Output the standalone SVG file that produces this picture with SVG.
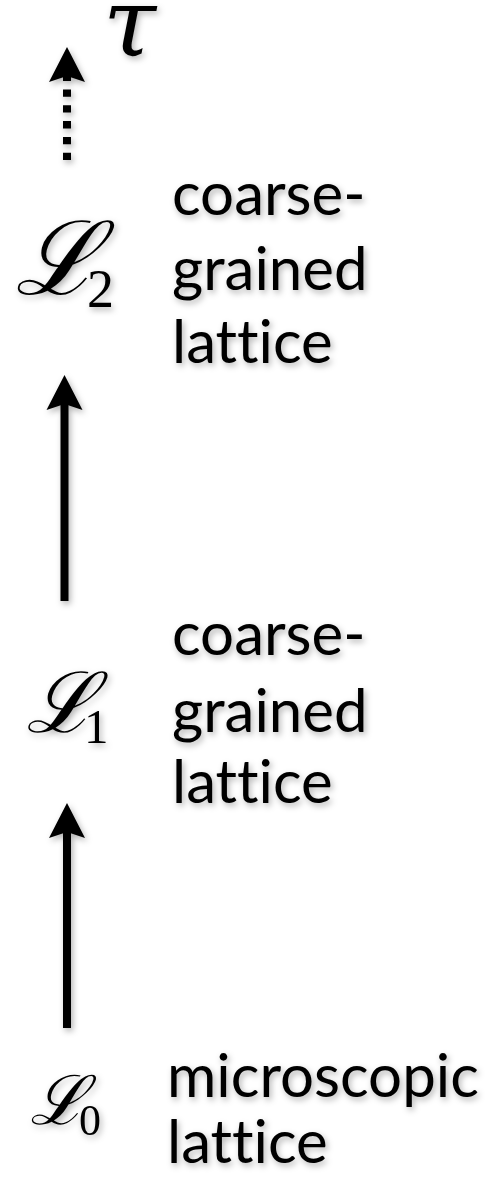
<svg xmlns="http://www.w3.org/2000/svg" width="493" height="1178" viewBox="0 0 493 1178">
<style>
.lbl{font-family:"Lato","Open Sans",sans-serif;font-size:60px;fill:#000;font-variant-ligatures:none;font-feature-settings:"liga" 0}
.cal{font-family:"DejaVu Serif",serif;font-style:italic;fill:#000}
.sub{font-family:"Liberation Serif",serif;fill:#000}
.shaft{stroke:#000;stroke-width:8;fill:none;stroke-linecap:butt}
</style>
<defs>
<filter id="sh" x="-20%" y="-20%" width="140%" height="140%">
<feDropShadow dx="2" dy="3" stdDeviation="3" flood-color="#000" flood-opacity="0.3"/>
</filter>
<marker id="ah" markerUnits="userSpaceOnUse" viewBox="0 -20 40 40" refX="6" refY="0" markerWidth="40" markerHeight="40" orient="auto" overflow="visible">
<path d="M0,-18 L35,0 L0,18 L6,0 Z" fill="#000"/>
</marker>
</defs>
<g filter="url(#sh)">
<g id="connectors">
<line class="shaft" x1="67" y1="160" x2="67" y2="76" stroke-dasharray="7.3 8.5" marker-end="url(#ah)"/>
<line class="shaft" x1="64.5" y1="601" x2="64.5" y2="404" marker-end="url(#ah)"/>
<line class="shaft" x1="67" y1="1028" x2="67" y2="832" marker-end="url(#ah)"/>
</g>
<g id="tau"><text x="103" y="56" class="cal" font-size="96">τ</text></g>
<g id="L2">
<text x="15" y="294" class="cal" font-size="102">ℒ</text>
<text x="87" y="307" class="sub" font-size="54">2</text>
<text class="lbl" x="172" y="215">coarse-</text>
<text class="lbl" x="172" y="290">grained</text>
<text class="lbl" x="172" y="363">lattice</text>
</g>
<g id="L1">
<text x="26" y="732" class="cal" font-size="84">ℒ</text>
<text x="84" y="743" class="sub" font-size="49">1</text>
<text class="lbl" x="172" y="655">coarse-</text>
<text class="lbl" x="172" y="732">grained</text>
<text class="lbl" x="172" y="803">lattice</text>
</g>
<g id="L0">
<text x="30" y="1124" class="cal" font-size="68">ℒ</text>
<text x="79" y="1135" class="sub" font-size="44">0</text>
<text class="lbl" x="167" y="1097">microscopic</text>
<text class="lbl" x="167" y="1163">lattice</text>
</g>
</g>
</svg>
